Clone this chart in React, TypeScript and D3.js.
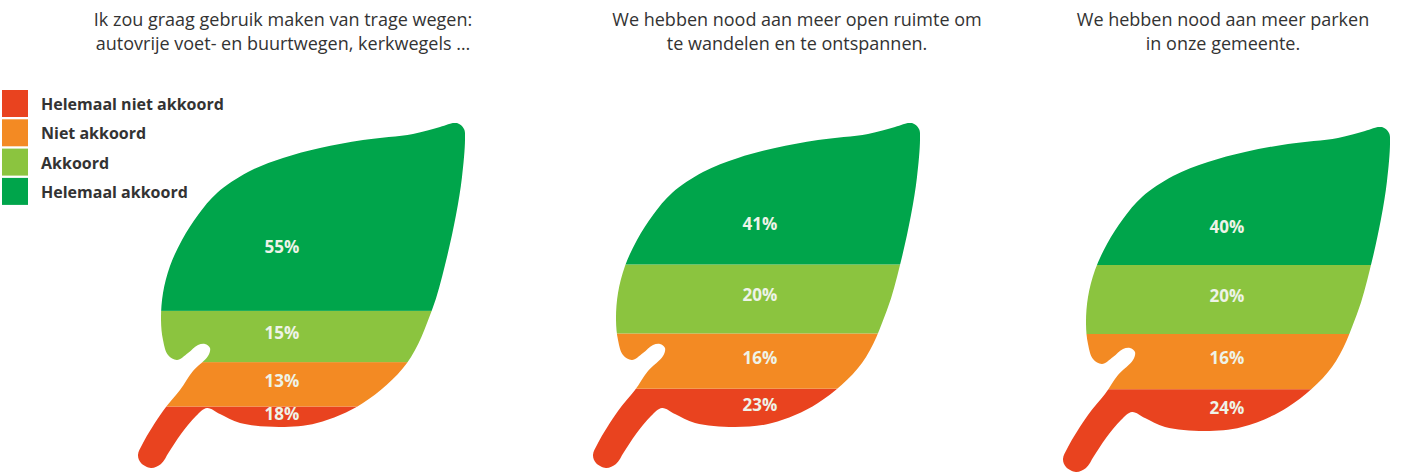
import React, { useEffect, useRef } from 'react';
import * as d3 from 'd3';

// Answer categories, bottom of the leaf first
const categories = ['Helemaal niet akkoord', 'Niet akkoord', 'Akkoord', 'Helemaal akkoord'];
const categoryColors = ['#e9431f', '#f38a23', '#8bc43f', '#00a54b'];

// Statements (one leaf each)
const titles = [
  ['Ik zou graag gebruik maken van trage wegen:', 'autovrije voet- en buurtwegen, kerkwegels \u2026'],
  ['We hebben nood aan meer open ruimte om', 'te wandelen en te ontspannen.'],
  ['We hebben nood aan meer parken', 'in onze gemeente.'],
];

// Percentages per statement
const helemaalNietAkkoord = [18, 23, 24];
const nietAkkoord = [13, 16, 16];
const akkoord = [15, 20, 20];
const helemaalAkkoord = [55, 41, 40];

// Leaf outline in local coordinates (decorative frame used as clip)
const leafOutline: [number, number][] = [
  [317, -2], [324, 4], [325, 14], [322, 52], [316, 90], [305, 140], [292, 185],
  [267, 238], [223, 278], [177, 298], [140, 302], [100, 298], [80, 289], [67, 283],
  [56, 291], [41, 309], [29, 327], [21, 339], [11, 343], [1, 338], [-2, 330],
  [3, 318], [23, 286], [40, 265], [53, 246], [68, 231], [70, 223], [65, 219],
  [58, 220], [48, 228], [37, 235], [28, 230], [23, 215], [21, 195], [23, 168],
  [30, 141], [42, 115], [58, 90], [77, 68], [108, 47], [143, 33], [180, 23],
  [223, 15], [273, 9], [300, 2],
];

const App: React.FC = () => {
  const svgRef = useRef<SVGSVGElement>(null);

  useEffect(() => {
    if (!svgRef.current) return;
    const width = 1409;
    const height = 474;

    const svg = d3.select(svgRef.current)
      .attr('width', width)
      .attr('height', height);
    svg.selectAll('*').remove();

    const panelX = [140, 595, 1065];
    const panelY = [125, 125, 129];
    const labelX = [142, 165, 162];
    const titleX = [283, 797, 1223];
    const leafTop = -2;
    const leafBottom = 343;
    const bladeTop = 66;
    const bladeBottom = 304;

    const rows = titles.map((_, i) => ({
      [categories[0]]: helemaalNietAkkoord[i],
      [categories[1]]: nietAkkoord[i],
      [categories[2]]: akkoord[i],
      [categories[3]]: helemaalAkkoord[i],
    }));
    const stacked = d3.stack<Record<string, number>>().keys(categories)(rows);

    const color = d3.scaleOrdinal<string, string>().domain(categories).range(categoryColors);
    const leafPath = d3.line().curve(d3.curveCatmullRomClosed.alpha(0.5))(leafOutline) || '';

    const defs = svg.append('defs');

    // Titles
    titles.forEach((lines, i) => {
      const t = svg.append('text')
        .attr('x', titleX[i])
        .attr('text-anchor', 'middle')
        .attr('font-family', '"Open Sans", sans-serif')
        .attr('font-size', 18)
        .attr('fill', '#333');
      lines.forEach((line, j) => {
        t.append('tspan').attr('x', titleX[i]).attr('y', 26 + j * 24).text(line);
      });
    });

    // Leaves
    titles.forEach((_, i) => {
      const total = d3.sum(categories, k => rows[i][k]);
      const y = d3.scaleLinear().domain([0, total]).range([leafBottom, leafTop]);

      defs.append('clipPath')
        .attr('id', `leaf-clip-${i}`)
        .append('path')
        .attr('d', leafPath);

      const g = svg.append('g')
        .attr('transform', `translate(${panelX[i]},${panelY[i]})`);

      const bands = g.append('g').attr('clip-path', `url(#leaf-clip-${i})`);
      stacked.forEach(series => {
        const d = series[i];
        bands.append('rect')
          .attr('x', -10)
          .attr('width', 350)
          .attr('y', y(d[1]))
          .attr('height', y(d[0]) - y(d[1]))
          .attr('fill', color(series.key));
      });

      stacked.forEach(series => {
        const d = series[i];
        const top = Math.max(y(d[1]), bladeTop);
        const bottom = Math.min(y(d[0]), bladeBottom);
        g.append('text')
          .attr('x', labelX[i])
          .attr('y', (top + bottom) / 2 - 4)
          .attr('text-anchor', 'middle')
          .attr('dominant-baseline', 'central')
          .attr('font-family', '"Open Sans", sans-serif')
          .attr('font-weight', 700)
          .attr('font-size', 17)
          .attr('fill', '#eef3e8')
          .text(`${d[1] - d[0]}%`);
      });
    });

    // Legend
    const legend = svg.append('g');
    categories.forEach((cat, i) => {
      legend.append('rect')
        .attr('x', 2)
        .attr('y', 90 + i * 29.3)
        .attr('width', 26)
        .attr('height', 27)
        .attr('fill', color(cat));
      legend.append('text')
        .attr('x', 41)
        .attr('y', 104 + i * 29.3)
        .attr('dominant-baseline', 'central')
        .attr('font-family', '"Open Sans", sans-serif')
        .attr('font-weight', 700)
        .attr('font-size', 16)
        .attr('fill', '#333')
        .text(cat);
    });
  }, []);

  return (
    <div style={{ position: 'absolute', left: 0, top: 0, width: 1409, height: 474, background: '#fff' }}>
      <svg ref={svgRef}></svg>
    </div>
  );
};

export default App;
